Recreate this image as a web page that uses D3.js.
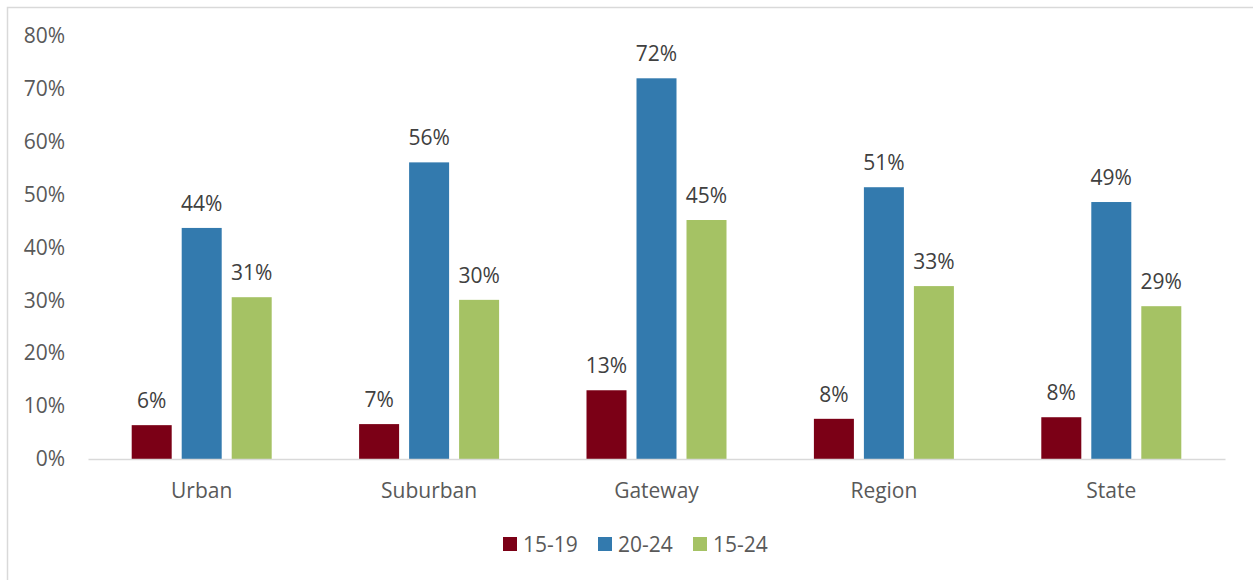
<!DOCTYPE html>
<html><head><meta charset="utf-8">
<script src="https://cdn.jsdelivr.net/npm/d3@7"></script>
<style>body{margin:0;background:#fff;} svg{display:block;font-family:"Open Sans",Lato,sans-serif;}</style>
</head><body><svg id="c" width="1253" height="580"></svg>
<script>
const categories = ["Urban","Suburban","Gateway","Region","State"];
const seriesNames = ["15-19","20-24","15-24"];
const s1519 = [6.4, 6.6, 13.0, 7.6, 7.9];
const s2024 = [43.7, 56.1, 72.0, 51.4, 48.6];
const s1524 = [30.6, 30.1, 45.2, 32.7, 28.9];
const seriesLabels1519 = ["6%","7%","13%","8%","8%"];
const seriesLabels2024 = ["44%","56%","72%","51%","49%"];
const seriesLabels1524 = ["31%","30%","45%","33%","29%"];
const yTicks = [0,10,20,30,40,50,60,70,80];
const colors = ["#7B0016","#337AAE","#A5C264"];

const series = [
  {name: seriesNames[0], values: s1519, labels: seriesLabels1519},
  {name: seriesNames[1], values: s2024, labels: seriesLabels2024},
  {name: seriesNames[2], values: s1524, labels: seriesLabels1524}
];
const FONT = "'Open Sans',Lato,sans-serif";
const FS = "21px";

const svg = d3.select("#c");
svg.append("rect").attr("x",7.5).attr("y",7.5).attr("width",1260).attr("height",600)
  .attr("fill","none").attr("stroke","#d9d9d9").attr("stroke-width",1.5);

const m = {l:88, r:1225, t:36, b:459};
const x = d3.scaleBand().domain(categories).range([m.l, m.r]).paddingInner(0).paddingOuter(0);
const y = d3.scaleLinear().domain([0,80]).range([m.b, m.t]);
const groupW = 140;
const xs = d3.scaleBand().domain(seriesNames).range([0,groupW]).paddingInner(0.2).paddingOuter(0);

// y axis labels
const yAxis = svg.append("g").attr("transform",`translate(${m.l},0)`)
  .call(d3.axisLeft(y).tickValues(yTicks).tickFormat(d=>d+"%").tickSize(0).tickPadding(23));
yAxis.select(".domain").remove();
yAxis.selectAll("text").attr("fill","#595959").style("font-size",FS).style("font-family",FONT);

// bars
series.forEach((s,si)=>{
  const g = svg.append("g");
  g.selectAll("rect").data(categories).join("rect")
    .attr("x", c => x(c) + (x.bandwidth()-groupW)/2 + xs(s.name))
    .attr("y", (c,i) => y(s.values[i]))
    .attr("width", xs.bandwidth())
    .attr("height", (c,i) => y(0) - y(s.values[i]))
    .attr("fill", colors[si]);
  g.selectAll("text").data(categories).join("text")
    .attr("x", c => x(c) + (x.bandwidth()-groupW)/2 + xs(s.name) + xs.bandwidth()/2)
    .attr("y", (c,i) => y(s.values[i]) - 17)
    .attr("text-anchor","middle").attr("fill","#404040").style("font-size",FS)
    .text((c,i)=>s.labels[i]);
});

// x axis
const xAxis = svg.append("g").attr("transform",`translate(0,${m.b})`)
  .call(d3.axisBottom(x).tickSize(0).tickPadding(24));
xAxis.select(".domain").attr("stroke","#d9d9d9").attr("stroke-width",1.5);
xAxis.selectAll("text").attr("fill","#595959").style("font-size",FS).style("font-family",FONT);

// legend
const legX = [503, 598, 693];
const leg = svg.append("g");
series.forEach((s,i)=>{
  leg.append("rect").attr("x",legX[i]).attr("y",537).attr("width",14).attr("height",14).attr("fill",colors[i]);
  leg.append("text").attr("x",legX[i]+20).attr("y",552).attr("fill","#595959").style("font-size",FS).text(s.name);
});
</script></body></html>
